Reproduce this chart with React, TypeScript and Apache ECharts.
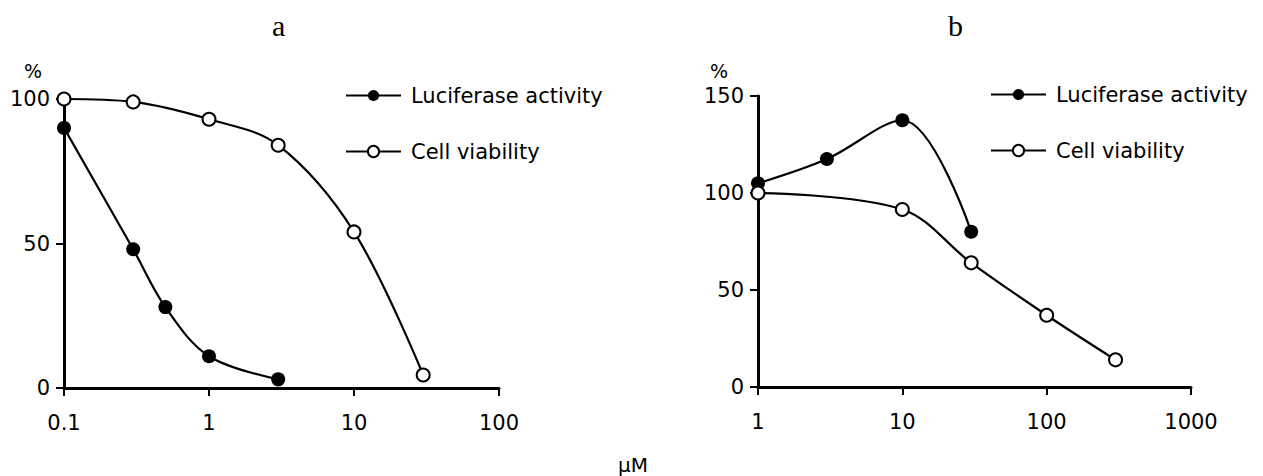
import React, { useEffect, useRef } from "react";
import * as echarts from "echarts";

const concA = [0.1, 0.3, 0.5, 1, 3];
const lucA = [90, 48, 28, 11, 3];
const concAv = [0.1, 0.3, 1, 3, 10, 30];
const viaA = [100, 99, 93, 84, 54, 4.5];

const concB = [1, 3, 10, 30];
const lucB = [105, 117.5, 137.5, 80];
const concBv = [1, 10, 30, 100, 300];
const viaB = [100, 91.5, 64, 37, 14];

const NAMES = ["Luciferase activity", "Cell viability"];
const FONT = "'DejaVu Sans', sans-serif";

function pts(xs: number[], ys: number[]) {
  return xs.map((x, i) => [x, ys[i]]);
}

export default function App() {
  const ref = useRef<HTMLDivElement>(null);
  useEffect(() => {
    document.body.style.margin = "0";
    const chart = echarts.init(ref.current!, null, { renderer: "svg" });
    const axisLine = { lineStyle: { color: "#000", width: 3 } };
    const axisTick = { length: 8, lineStyle: { color: "#000", width: 2 } };
    const label = { color: "#000", fontSize: 21, fontFamily: FONT };
    const fmt = (v: number) => String(+Number(v).toPrecision(3));
    const lucStyle = {
      type: "line" as const,
      smooth: 0.35,
      symbol: "circle",
      symbolSize: 14,
      clip: false,
      lineStyle: { color: "#000", width: 2.2 },
      itemStyle: { color: "#000" },
    };
    const viaStyle = {
      type: "line" as const,
      smooth: 0.35,
      symbol: "emptyCircle",
      symbolSize: 13,
      clip: false,
      lineStyle: { color: "#000", width: 2.2 },
      itemStyle: { color: "#000", borderWidth: 2.5 },
    };
    const legendBase = {
      orient: "vertical" as const,
      itemWidth: 55,
      itemHeight: 14,
      itemGap: 35,
      padding: 0,
      selectedMode: false,
      data: NAMES,
      textStyle: { color: "#000", fontSize: 21, fontFamily: FONT, padding: [0, 0, 0, 5] },
    };
    chart.setOption({
      animation: false,
      grid: [
        { left: 64, top: 99, width: 435, height: 289, containLabel: false },
        { left: 758, top: 96, width: 433, height: 291, containLabel: false },
      ],
      xAxis: [
        {
          type: "log", logBase: 10, min: 0.1, max: 100, gridIndex: 0,
          axisLine, axisTick, splitLine: { show: false },
          axisLabel: { ...label, margin: 24, formatter: fmt },
        },
        {
          type: "log", logBase: 10, min: 1, max: 1000, gridIndex: 1,
          axisLine, axisTick, splitLine: { show: false },
          axisLabel: { ...label, margin: 24, formatter: fmt },
        },
      ],
      yAxis: [
        {
          type: "value", min: 0, max: 100, interval: 50, gridIndex: 0,
          axisLine: { show: true, ...axisLine }, axisTick: { show: true, ...axisTick },
          splitLine: { show: false }, axisLabel: { ...label, margin: 14 },
        },
        {
          type: "value", min: 0, max: 150, interval: 50, gridIndex: 1,
          axisLine: { show: true, ...axisLine }, axisTick: { show: true, ...axisTick },
          splitLine: { show: false }, axisLabel: { ...label, margin: 14 },
        },
      ],
      legend: [
        { ...legendBase, left: 345, top: 85 },
        { ...legendBase, left: 990, top: 84 },
      ],
      series: [
        { ...lucStyle, name: NAMES[0], xAxisIndex: 0, yAxisIndex: 0, data: pts(concA, lucA) },
        { ...viaStyle, name: NAMES[1], xAxisIndex: 0, yAxisIndex: 0, data: pts(concAv, viaA) },
        { ...lucStyle, name: NAMES[0], xAxisIndex: 1, yAxisIndex: 1, data: pts(concB, lucB) },
        { ...viaStyle, name: NAMES[1], xAxisIndex: 1, yAxisIndex: 1, data: pts(concBv, viaB) },
      ],
      graphic: [
        { type: "text", left: 272, top: 10, style: { text: "a", font: "30px 'Liberation Serif', serif", fill: "#000" } },
        { type: "text", left: 948, top: 10, style: { text: "b", font: "30px 'Liberation Serif', serif", fill: "#000" } },
        { type: "text", left: 24, top: 61, style: { text: "%", font: "19px " + FONT, fill: "#000" } },
        { type: "text", left: 710, top: 61, style: { text: "%", font: "19px " + FONT, fill: "#000" } },
        { type: "text", left: 618, top: 455, style: { text: "μM", font: "20px " + FONT, fill: "#000" } },
      ],
    });
    return () => chart.dispose();
  }, []);
  return <div ref={ref} style={{ width: 1263, height: 476 }} />;
}
